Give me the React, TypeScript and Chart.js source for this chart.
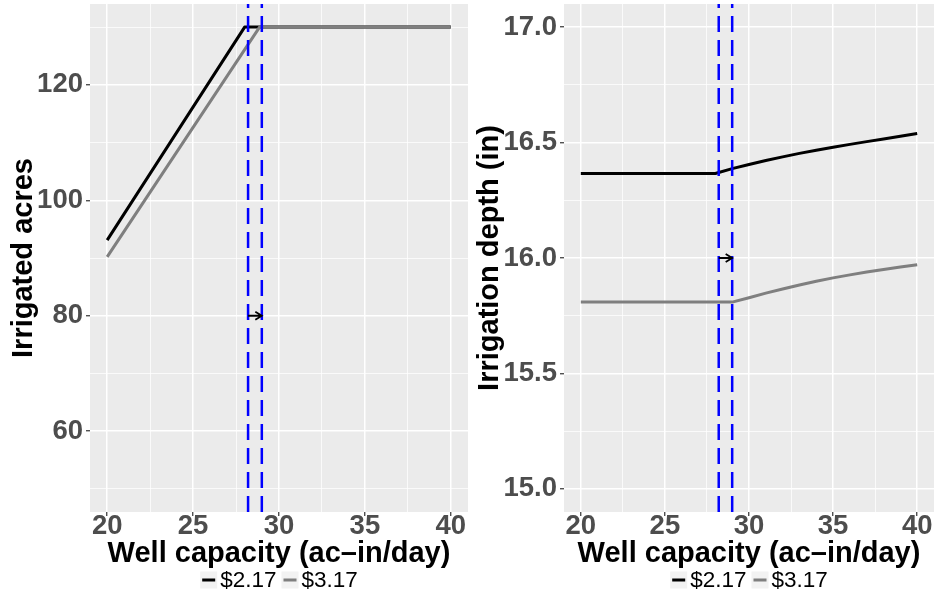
import React, { useEffect, useRef } from "react";
import { Chart, registerables } from "chart.js";

Chart.register(...registerables);

// ---------- data ----------
const SERIES_LABELS = ["$2.17", "$3.17"];
const SERIES_COLORS = ["#000000", "#7F7F7F"];

// Irrigated acres panel
const ACRES_X_217 = [20, 28.0, 40];
const ACRES_217 = [93.1, 130, 130];
const ACRES_X_317 = [20, 28.87, 40];
const ACRES_317 = [90.2, 130, 130];

// Irrigation depth panel
const DEPTH_X_217 = [20, 28, 29, 30, 31, 32, 33, 34, 35, 36, 37, 38, 39, 40];
const DEPTH_217 = [16.366, 16.366, 16.387, 16.405, 16.422, 16.438, 16.453, 16.467, 16.48, 16.492, 16.504, 16.515, 16.527, 16.539];
const DEPTH_X_317 = [20, 29, 30, 31, 32, 33, 34, 35, 36, 37, 38, 39, 40];
const DEPTH_317 = [15.809, 15.809, 15.828, 15.848, 15.866, 15.883, 15.899, 15.914, 15.927, 15.939, 15.95, 15.961, 15.971];

const VLINES = [28.2, 29.0];
const ARROW_X = [28.2, 29.0];
const ARROW_Y_ACRES = 80;
const ARROW_Y_DEPTH = 16.0;

const X_RANGE = [19, 41];
const X_TICKS = [20, 25, 30, 35, 40];
const X_MINOR = [22.5, 27.5, 32.5, 37.5];
const ACRES_RANGE = [46, 134];
const ACRES_TICKS = [60, 80, 100, 120];
const ACRES_MINOR = [50, 70, 90, 110, 130];
const DEPTH_RANGE = [14.9, 17.1];
const DEPTH_TICKS = [15.0, 15.5, 16.0, 16.5, 17.0];
const DEPTH_MINOR = [15.25, 15.75, 16.25, 16.75];

const X_TITLE = "Well capacity (ac\u2013in/day)";
const ACRES_TITLE = "Irrigated acres";
const DEPTH_TITLE = "Irrigation depth (in)";

const FONT = '"Liberation Sans", Arial, Helvetica, sans-serif';

type PanelCfg = {
  width: number;
  yAxisWidth: number;
  padRight: number;
  xs: number[][];
  ys: number[][];
  yRange: number[];
  yTicks: number[];
  yMinor: number[];
  yDecimals: number;
  arrowY: number;
  yTitle: string;
  yTitleX: number;
};

const isIn = (arr: number[], v: number) => arr.some((a) => Math.abs(a - v) < 1e-9);

function makeConfig(cfg: PanelCfg): any {
  const datasets = cfg.xs.map((xv, i) => ({
    label: SERIES_LABELS[i],
    data: xv.map((x, j) => ({ x, y: cfg.ys[i][j] })),
    borderColor: SERIES_COLORS[i],
    backgroundColor: SERIES_COLORS[i],
    borderWidth: 3,
    pointRadius: 0,
    tension: 0,
    fill: false,
    borderJoinStyle: "round",
    order: 2 - i,
  }));

  const overlay = {
    id: "overlay",
    beforeDraw(chart: any) {
      const { ctx, chartArea: a } = chart;
      ctx.save();
      ctx.fillStyle = "#EBEBEB";
      ctx.fillRect(a.left, a.top, a.right - a.left, a.bottom - a.top);
      ctx.restore();
    },
    afterDatasetsDraw(chart: any) {
      const { ctx, chartArea: a } = chart;
      const xs = chart.scales.x;
      const ysc = chart.scales.y;
      ctx.save();
      ctx.strokeStyle = "#0000FF";
      ctx.lineWidth = 2.5;
      ctx.setLineDash([16, 8]);
      VLINES.forEach((v) => {
        const px = xs.getPixelForValue(v);
        ctx.beginPath();
        ctx.moveTo(px, a.bottom);
        ctx.lineTo(px, a.top);
        ctx.stroke();
      });
      ctx.setLineDash([]);
      // arrow
      const x0 = xs.getPixelForValue(ARROW_X[0]);
      const x1 = xs.getPixelForValue(ARROW_X[1]);
      const y = ysc.getPixelForValue(cfg.arrowY);
      ctx.strokeStyle = "#000000";
      ctx.lineWidth = 1.8;
      ctx.beginPath();
      ctx.moveTo(x0, y);
      ctx.lineTo(x1, y);
      ctx.moveTo(x1 - 6.5, y - 4);
      ctx.lineTo(x1, y);
      ctx.lineTo(x1 - 6.5, y + 4);
      ctx.stroke();
      ctx.restore();
    },
    afterDraw(chart: any) {
      const { ctx, chartArea: a } = chart;
      const cx = (a.left + a.right) / 2;
      ctx.save();
      // x title
      ctx.fillStyle = "#000000";
      ctx.font = `bold 29px ${FONT}`;
      ctx.textAlign = "center";
      ctx.textBaseline = "alphabetic";
      ctx.fillText(X_TITLE, cx, 561.5);
      // y title
      ctx.save();
      ctx.translate(cfg.yTitleX, (a.top + a.bottom) / 2);
      ctx.rotate(-Math.PI / 2);
      ctx.fillText(cfg.yTitle, 0, 0);
      ctx.restore();
      // legend
      ctx.font = `22.5px ${FONT}`;
      const keyW = 17;
      const gapKT = 3;
      const gapItems = 5;
      const widths = SERIES_LABELS.map((l) => ctx.measureText(l).width);
      const total = SERIES_LABELS.length * (keyW + gapKT) + widths.reduce((s, w) => s + w, 0) + gapItems * (SERIES_LABELS.length - 1);
      let x = cx - total / 2;
      const cy = 580;
      ctx.textAlign = "left";
      ctx.textBaseline = "middle";
      SERIES_LABELS.forEach((lab, i) => {
        ctx.fillStyle = "#F2F2F2";
        ctx.fillRect(x, cy - keyW / 2, keyW, keyW);
        ctx.strokeStyle = SERIES_COLORS[i];
        ctx.lineWidth = 3;
        ctx.beginPath();
        ctx.moveTo(x + 2, cy);
        ctx.lineTo(x + keyW - 2, cy);
        ctx.stroke();
        x += keyW + gapKT;
        ctx.fillStyle = "#000000";
        ctx.fillText(lab, x, cy + 1);
        x += widths[i] + gapItems;
      });
      ctx.restore();
    },
  };

  const gridCommon = (major: number[]) => ({
    color: "#FFFFFF",
    lineWidth: (c: any) => (c.tick && isIn(major, c.tick.value) ? 1.5 : 0.75),
    tickColor: (c: any) => (c.tick && isIn(major, c.tick.value) ? "#333333" : "rgba(0,0,0,0)"),
    tickLength: 4,
    tickWidth: 1.2,
    drawOnChartArea: true,
    drawTicks: true,
  });

  return {
    type: "line",
    data: { datasets },
    options: {
      animation: false,
      responsive: false,
      maintainAspectRatio: false,
      events: [],
      layout: { padding: { top: 4, right: cfg.padRight, left: 0, bottom: 0 } },
      plugins: { legend: { display: false }, tooltip: { enabled: false }, title: { display: false } },
      scales: {
        x: {
          type: "linear",
          min: X_RANGE[0],
          max: X_RANGE[1],
          afterBuildTicks: (s: any) => {
            s.ticks = [...X_TICKS, ...X_MINOR].sort((p, q) => p - q).map((v) => ({ value: v }));
          },
          afterFit: (s: any) => {
            s.height = 88;
            s.paddingLeft = 0;
            s.paddingRight = 0;
          },
          grid: gridCommon(X_TICKS),
          border: { display: false },
          ticks: {
            autoSkip: false,
            maxRotation: 0,
            minRotation: 0,
            padding: -3,
            color: "#4D4D4D",
            font: { family: FONT, size: 27.5, weight: "bold", lineHeight: 1 },
            callback: (v: number) => (isIn(X_TICKS, v) ? String(v) : ""),
          },
        },
        y: {
          type: "linear",
          min: cfg.yRange[0],
          max: cfg.yRange[1],
          afterBuildTicks: (s: any) => {
            s.ticks = [...cfg.yTicks, ...cfg.yMinor].sort((p, q) => p - q).map((v) => ({ value: v }));
          },
          afterFit: (s: any) => {
            s.width = cfg.yAxisWidth;
            s.paddingTop = 0;
            s.paddingBottom = 0;
          },
          grid: gridCommon(cfg.yTicks),
          border: { display: false },
          ticks: {
            autoSkip: false,
            padding: 3,
            color: "#4D4D4D",
            font: { family: FONT, size: 27.5, weight: "bold", lineHeight: 1 },
            callback: (v: number) => (isIn(cfg.yTicks, v) ? v.toFixed(cfg.yDecimals) : ""),
          },
        },
      },
    },
    plugins: [overlay],
  };
}

function Panel({ cfg, left }: { cfg: PanelCfg; left: number }) {
  const ref = useRef<HTMLCanvasElement | null>(null);
  useEffect(() => {
    if (!ref.current) return;
    const chart = new Chart(ref.current, makeConfig(cfg));
    return () => chart.destroy();
  }, []);
  return (
    <canvas
      ref={ref}
      width={cfg.width}
      height={600}
      style={{ position: "absolute", left, top: 0, width: cfg.width, height: 600, display: "block" }}
    />
  );
}

const LEFT: PanelCfg = {
  width: 470,
  yAxisWidth: 90,
  padRight: 2,
  xs: [ACRES_X_217, ACRES_X_317],
  ys: [ACRES_217, ACRES_317],
  yRange: ACRES_RANGE,
  yTicks: ACRES_TICKS,
  yMinor: ACRES_MINOR,
  yDecimals: 0,
  arrowY: ARROW_Y_ACRES,
  yTitle: ACRES_TITLE,
  yTitleX: 31.5,
};

const RIGHT: PanelCfg = {
  width: 465,
  yAxisWidth: 94,
  padRight: 1,
  xs: [DEPTH_X_217, DEPTH_X_317],
  ys: [DEPTH_217, DEPTH_317],
  yRange: DEPTH_RANGE,
  yTicks: DEPTH_TICKS,
  yMinor: DEPTH_MINOR,
  yDecimals: 1,
  arrowY: ARROW_Y_DEPTH,
  yTitle: DEPTH_TITLE,
  yTitleX: 28.3,
};

export default function App() {
  return (
    <div style={{ position: "absolute", left: 0, top: 0, width: 935, height: 600, background: "#FFFFFF" }}>
      <Panel cfg={LEFT} left={0} />
      <Panel cfg={RIGHT} left={470} />
    </div>
  );
}
